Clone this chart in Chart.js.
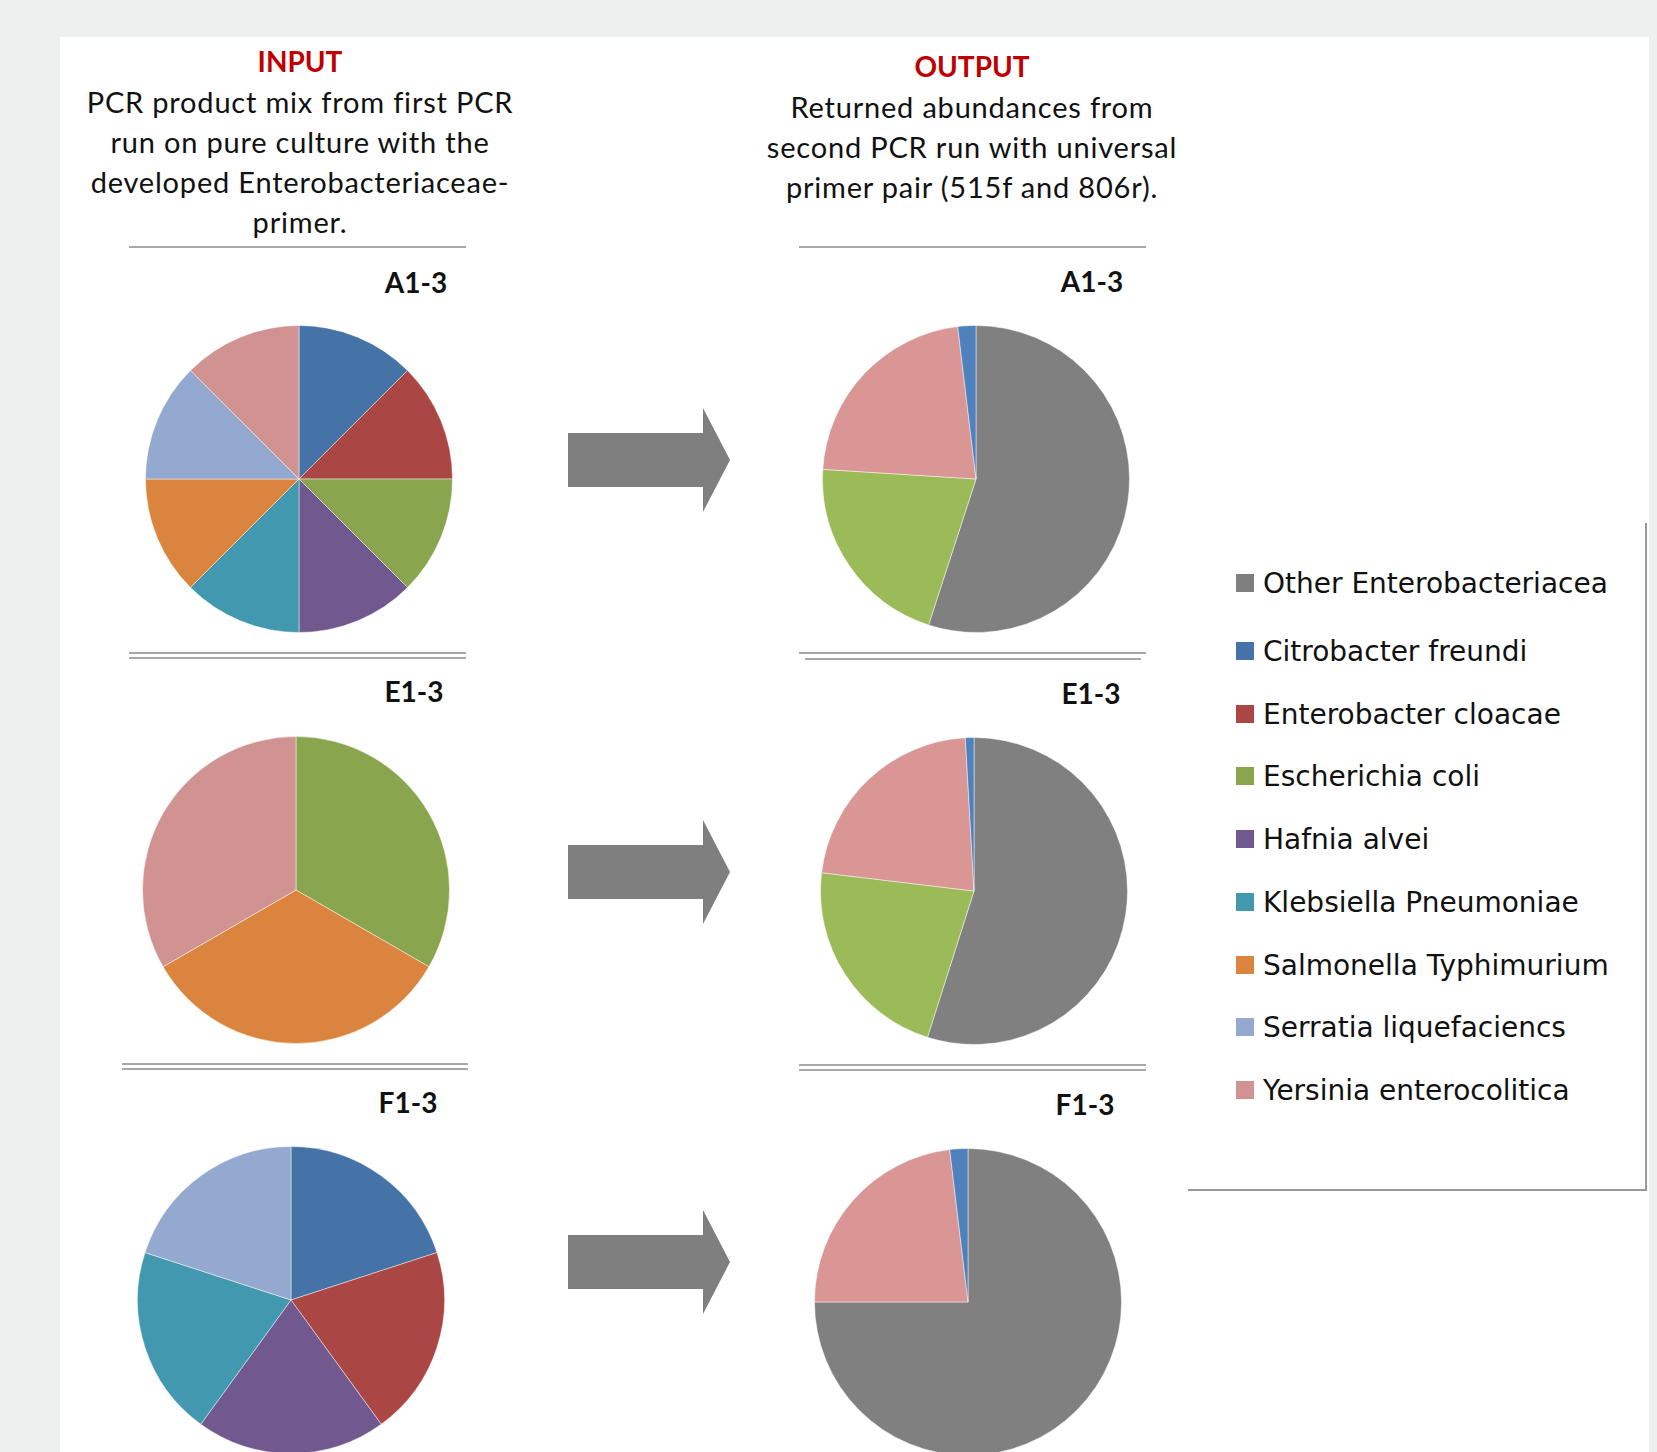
<!DOCTYPE html>
<html>
<head>
<meta charset="utf-8">
<script src="https://cdn.jsdelivr.net/npm/chart.js@4.4.1/dist/chart.umd.min.js"></script>
<style>
  html, body { margin: 0; padding: 0; }
  body { width: 1657px; height: 1452px; background: #eef0f0; position: relative; overflow: hidden; font-family: Lato, sans-serif; color: #111; }
  .panel { position: absolute; left: 60px; top: 37px; width: 1589px; height: 1415px; background: #fff; }
  .txt { position: absolute; white-space: nowrap; text-align: center; }
  .hdr { font-weight: bold; color: #c00000; font-size: 28px; line-height: 40px; }
  .desc { font-size: 29px; line-height: 40px; letter-spacing: 0.8px; }
  .ttl { font-weight: bold; font-size: 28px; line-height: 30px; }
  .rule { position: absolute; height: 2px; background: #a8a8a8; }
  .arrow { position: absolute; background: #7f7f7f; width: 162px; height: 104px;
           clip-path: polygon(0 25px, 135px 25px, 135px 0, 162px 52px, 135px 104px, 135px 79px, 0 79px); }
  .pie { position: absolute; width: 308px; height: 308px; }
  .leg { position: absolute; font-family: "DejaVu Sans", sans-serif; font-size: 28px; line-height: 40px; white-space: nowrap; color: #111; }
  .sw { position: absolute; width: 18px; height: 18px; }
</style>
</head>
<body>
<div class="panel"></div>

<div class="txt hdr" style="left:0; width:600px; top:41px;">INPUT</div>
<div class="txt desc" style="left:0; width:600px; top:82px;">PCR product mix from first PCR<br>run on pure culture with the<br>developed Enterobacteriaceae-<br>primer.</div>

<div class="txt hdr" style="left:672px; width:600px; top:46px;">OUTPUT</div>
<div class="txt desc" style="left:672px; width:600px; top:87px;">Returned abundances from<br>second PCR run with universal<br>primer pair (515f and 806r).</div>

<!-- separators -->
<div class="rule" style="left:129px; width:337px; top:246px;"></div>
<div class="rule" style="left:799px; width:347px; top:246px;"></div>
<div class="rule" style="left:129px; width:337px; top:652px;"></div>
<div class="rule" style="left:129px; width:337px; top:657px;"></div>
<div class="rule" style="left:799px; width:347px; top:652px;"></div>
<div class="rule" style="left:805px; width:336px; top:658px;"></div>
<div class="rule" style="left:122px; width:346px; top:1063px;"></div>
<div class="rule" style="left:122px; width:346px; top:1068px;"></div>
<div class="rule" style="left:799px; width:347px; top:1064px;"></div>
<div class="rule" style="left:799px; width:347px; top:1069px;"></div>

<!-- sample titles -->
<div class="txt ttl" style="left:366px; width:100px; top:267px;">A1-3</div>
<div class="txt ttl" style="left:1042px; width:100px; top:266px;">A1-3</div>
<div class="txt ttl" style="left:364px; width:100px; top:676px;">E1-3</div>
<div class="txt ttl" style="left:1041px; width:100px; top:678px;">E1-3</div>
<div class="txt ttl" style="left:358px; width:100px; top:1087px;">F1-3</div>
<div class="txt ttl" style="left:1035px; width:100px; top:1089px;">F1-3</div>

<!-- arrows -->
<div class="arrow" style="left:568px; top:408px;"></div>
<div class="arrow" style="left:568px; top:820px;"></div>
<div class="arrow" style="left:568px; top:1210px;"></div>

<!-- pies -->
<canvas id="inA" class="pie" width="308" height="308" style="left:145px; top:325px;"></canvas>
<canvas id="inE" class="pie" width="308" height="308" style="left:142px; top:736px;"></canvas>
<canvas id="inF" class="pie" width="308" height="308" style="left:137px; top:1146px;"></canvas>
<canvas id="outA" class="pie" width="308" height="308" style="left:822px; top:325px;"></canvas>
<canvas id="outE" class="pie" width="308" height="308" style="left:820px; top:737px;"></canvas>
<canvas id="outF" class="pie" width="308" height="308" style="left:814px; top:1148px;"></canvas>

<!-- legend frame -->
<div class="rule" style="left:1645px; width:2px; top:523px; height:668px; background:#999;"></div>
<div class="rule" style="left:1188px; width:459px; top:1189px; background:#999;"></div>
<div id="legend"></div>

<script>
const categories = [
  'Other Enterobacteriacea',
  'Citrobacter freundi',
  'Enterobacter cloacae',
  'Escherichia coli',
  'Hafnia alvei',
  'Klebsiella Pneumoniae',
  'Salmonella Typhimurium',
  'Serratia liquefaciencs',
  'Yersinia enterocolitica'
];

// input mixes: equal shares of each strain used
const inputA1 = [0, 12.5, 12.5, 12.5, 12.5, 12.5, 12.5, 12.5, 12.5];
const inputE1 = [0, 0, 0, 33.3, 0, 0, 33.3, 0, 33.3];
const inputF1 = [0, 20, 20, 0, 20, 20, 0, 20, 0];

// returned abundances (%)
const outputA1 = [55.0, 1.9, 0, 21.0, 0, 0, 0, 0, 22.1];
const outputE1 = [54.9, 0.9, 0, 22.0, 0, 0, 0, 0, 22.2];
const outputF1 = [75.0, 1.9, 0, 0, 0, 0, 0, 0, 23.1];

// slice order clockwise from 12 o'clock
const inputOrder = categories.slice(1);
const outputOrder = ['Other Enterobacteriacea', 'Escherichia coli', 'Yersinia enterocolitica', 'Citrobacter freundi'];

const inputColors = ['#7f7f7f', '#4572a7', '#aa4643', '#89a54e', '#71588f', '#4198af', '#db843d', '#93a9cf', '#d19392'];
const outputColors = ['#808080', '#4f81bd', '#c0504d', '#9bbb59', '#8064a2', '#4bacc6', '#f79646', '#95b3d7', '#d99694'];

function makePie(id, values, order, colors) {
  const labels = [], data = [], bg = [];
  order.forEach(name => {
    const i = categories.indexOf(name);
    if (values[i] > 0) {
      labels.push(name);
      data.push(values[i]);
      bg.push(colors[i]);
    }
  });
  new Chart(document.getElementById(id), {
    type: 'pie',
    data: { labels, datasets: [{ data, backgroundColor: bg, borderColor: 'rgba(255,255,255,0.45)', borderWidth: 1 }] },
    options: {
      responsive: false,
      animation: false,
      layout: { padding: 0 },
      plugins: { legend: { display: false }, tooltip: { enabled: false } }
    }
  });
}

makePie('inA', inputA1, inputOrder, inputColors);
makePie('inE', inputE1, inputOrder, inputColors);
makePie('inF', inputF1, inputOrder, inputColors);
makePie('outA', outputA1, outputOrder, outputColors);
makePie('outE', outputE1, outputOrder, outputColors);
makePie('outF', outputF1, outputOrder, outputColors);

// legend
const legend = document.getElementById('legend');
categories.forEach((name, i) => {
  const base = i === 0 ? 594 : 662 + (i - 1) * 62.7;
  const sw = document.createElement('div');
  sw.className = 'sw';
  sw.style.left = '1236px';
  sw.style.top = (base - 20) + 'px';
  sw.style.background = inputColors[i];
  legend.appendChild(sw);
  const t = document.createElement('div');
  t.className = 'leg';
  t.style.left = '1263px';
  t.style.top = (base - 30) + 'px';
  t.textContent = name;
  legend.appendChild(t);
});
</script>
</body>
</html>
